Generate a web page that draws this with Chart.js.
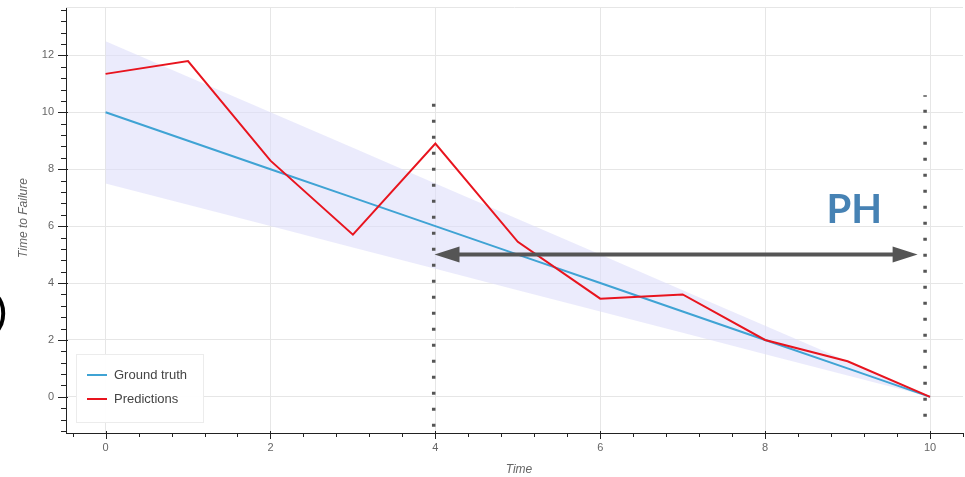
<!DOCTYPE html>
<html>
<head>
<meta charset="utf-8">
<script src="https://cdn.jsdelivr.net/npm/chart.js@4"></script>
<style>
  html, body { margin: 0; padding: 0; background: #fff; }
  #wrap { width: 965px; height: 477px; }
</style>
</head>
<body>
<div id="wrap"><canvas id="c"></canvas></div>
<script>
const times = [0, 1, 2, 3, 4, 5, 6, 7, 8, 9, 10]
const groundTruth = [10, 9, 8, 7, 6, 5, 4, 3, 2, 1, 0]
const predictions = [11.35, 11.8, 8.3, 5.7, 8.9, 5.45, 3.45, 3.6, 2.0, 1.25, 0]
const bandUpper = [12.5, 11.25, 10, 8.75, 7.5, 6.25, 5, 3.75, 2.5, 1.25, 0]
const bandLower = [7.5, 6.75, 6, 5.25, 4.5, 3.75, 3, 2.25, 1.5, 0.75, 0]
const xTicks = [0, 2, 4, 6, 8, 10]
const yTicks = [0, 2, 4, 6, 8, 10, 12]
const markerStart = [[3.98, -1.05], [3.98, 10.3]]
const markerEnd = [[9.94, -0.7], [9.94, 10.6]]
const arrowFrom = [3.99, 5.0]
const arrowTo = [9.85, 5.0]
const phLabel = [9.08, 6.55]

const toXY = (xs, ys) => xs.map((x, i) => ({ x: x, y: ys[i] }))
const pairXY = (pts) => pts.map((p) => ({ x: p[0], y: p[1] }))

const font = "'Liberation Sans', Arial, sans-serif"

const extras = {
  id: "extras",
  afterDraw(chart) {
    const ctx = chart.ctx
    const xs = chart.scales.x
    const ys = chart.scales.y
    const area = chart.chartArea
    ctx.save()

    // light top edge
    ctx.strokeStyle = "#e6e6e6"
    ctx.lineWidth = 1
    ctx.beginPath()
    ctx.moveTo(area.left, area.top + 0.5)
    ctx.lineTo(area.right, area.top + 0.5)
    ctx.stroke()

    // minor + major ticks, bokeh style
    ctx.strokeStyle = "#222"
    ctx.lineWidth = 1
    for (let v = -1.2; v <= 13.61; v += 0.4) {
      const py = Math.round(ys.getPixelForValue(v)) + 0.5
      const major = Math.abs(v / 2 - Math.round(v / 2)) < 1e-6
      ctx.beginPath()
      ctx.moveTo(area.left - (major ? 8 : 5), py)
      ctx.lineTo(area.left + (major ? 2 : 0), py)
      ctx.stroke()
    }
    for (let v = -0.4; v <= 10.41; v += 0.4) {
      const px = Math.round(xs.getPixelForValue(v)) + 0.5
      const major = Math.abs(v / 2 - Math.round(v / 2)) < 1e-6
      ctx.beginPath()
      ctx.moveTo(px, area.bottom - (major ? 2 : 0))
      ctx.lineTo(px, area.bottom + (major ? 6 : 4))
      ctx.stroke()
    }

    // double arrow
    const ax1 = xs.getPixelForValue(arrowFrom[0])
    const ax2 = xs.getPixelForValue(arrowTo[0])
    const ay = ys.getPixelForValue(arrowFrom[1])
    ctx.strokeStyle = "#555"
    ctx.fillStyle = "#555"
    ctx.lineWidth = 4
    ctx.beginPath()
    ctx.moveTo(ax1 + 20, ay)
    ctx.lineTo(ax2 - 20, ay)
    ctx.stroke()
    ctx.beginPath()
    ctx.moveTo(ax1, ay)
    ctx.lineTo(ax1 + 25, ay - 8)
    ctx.lineTo(ax1 + 25, ay + 8)
    ctx.closePath()
    ctx.fill()
    ctx.beginPath()
    ctx.moveTo(ax2, ay)
    ctx.lineTo(ax2 - 25, ay - 8)
    ctx.lineTo(ax2 - 25, ay + 8)
    ctx.closePath()
    ctx.fill()

    // PH
    ctx.fillStyle = "#4682b4"
    ctx.font = "bold 40px Lato, 'Open Sans', sans-serif"
    ctx.textAlign = "center"
    ctx.textBaseline = "middle"
    ctx.fillText("PH", xs.getPixelForValue(phLabel[0]), ys.getPixelForValue(phLabel[1]))

    // legend
    const lx = 76, ly = 354, lw = 127, lh = 68
    ctx.fillStyle = "rgba(255,255,255,0.95)"
    ctx.fillRect(lx, ly, lw, lh)
    ctx.strokeStyle = "#ececec"
    ctx.lineWidth = 1
    ctx.strokeRect(lx + 0.5, ly + 0.5, lw, lh)
    const entries = [chart.data.datasets[1], chart.data.datasets[0]]
    entries.forEach((ds, i) => {
      const ry = 375 + i * 24
      ctx.strokeStyle = ds.borderColor
      ctx.lineWidth = 2
      ctx.beginPath()
      ctx.moveTo(87, ry)
      ctx.lineTo(107, ry)
      ctx.stroke()
      ctx.fillStyle = "#444"
      ctx.font = "13px " + font
      ctx.textAlign = "left"
      ctx.textBaseline = "middle"
      ctx.fillText(ds.label, 114, ry)
    })

    // axis titles
    ctx.fillStyle = "#666"
    ctx.font = "italic 12px " + font
    ctx.textAlign = "center"
    ctx.textBaseline = "middle"
    ctx.fillText("Time", 519, 470)
    ctx.save()
    ctx.translate(24, 218)
    ctx.rotate(-Math.PI / 2)
    ctx.fillText("Time to Failure", 0, 0)
    ctx.restore()

    // cut-off bracket at the left edge
    ctx.fillStyle = "#000"
    ctx.font = "45px " + font
    ctx.textAlign = "left"
    ctx.textBaseline = "alphabetic"
    ctx.fillText(")", -7, 325)

    ctx.restore()
  },
}

const lineBase = {
  pointRadius: 0,
  fill: false,
  tension: 0,
}

const noPad = (s) => {
  s.paddingTop = 0
  s.paddingBottom = 0
  s.paddingLeft = 0
  s.paddingRight = 0
}

new Chart(document.getElementById("c"), {
  type: "line",
  data: {
    datasets: [
      Object.assign({}, lineBase, {
        label: "Predictions",
        data: toXY(times, predictions),
        borderColor: "#e8141e",
        borderWidth: 2,
        order: 0,
      }),
      Object.assign({}, lineBase, {
        label: "Ground truth",
        data: toXY(times, groundTruth),
        borderColor: "#3fa3d4",
        borderWidth: 2,
        order: 1,
      }),
      Object.assign({}, lineBase, {
        label: "start",
        data: pairXY(markerStart),
        borderColor: "#555",
        borderWidth: 3.5,
        borderDash: [3, 13],
        borderCapStyle: "butt",
        order: 2,
      }),
      Object.assign({}, lineBase, {
        label: "end",
        data: pairXY(markerEnd),
        borderColor: "#555",
        borderWidth: 3.5,
        borderDash: [3, 13],
        borderCapStyle: "butt",
        order: 2,
      }),
      Object.assign({}, lineBase, {
        label: "upper",
        data: toXY(times, bandUpper),
        borderWidth: 0,
        borderColor: "transparent",
        backgroundColor: "rgba(222,222,250,0.6)",
        fill: "+1",
        order: 3,
      }),
      Object.assign({}, lineBase, {
        label: "lower",
        data: toXY(times, bandLower),
        borderWidth: 0,
        borderColor: "transparent",
        order: 4,
      }),
    ],
  },
  options: {
    responsive: true,
    maintainAspectRatio: false,
    animation: false,
    layout: { padding: { top: 7, right: 2, left: 0, bottom: 0 } },
    plugins: {
      legend: { display: false },
      tooltip: { enabled: false },
    },
    scales: {
      x: {
        type: "linear",
        min: -0.48,
        max: 10.4,
        afterFit: (s) => { s.height = 44; noPad(s) },
        afterBuildTicks: (s) => { s.ticks = xTicks.map((v) => ({ value: v })) },
        grid: { color: "#e6e6e6", drawTicks: false },
        border: { display: true, color: "#222", width: 1 },
        ticks: { color: "#666", font: { size: 11, family: font }, padding: 8 },
      },
      y: {
        type: "linear",
        min: -1.27,
        max: 13.7,
        afterFit: (s) => { s.width = 66; noPad(s) },
        afterBuildTicks: (s) => { s.ticks = yTicks.map((v) => ({ value: v })) },
        grid: { color: "#e6e6e6", drawTicks: false },
        border: { display: true, color: "#222", width: 1 },
        ticks: { color: "#666", font: { size: 11, family: font }, padding: 12 },
      },
    },
  },
  plugins: [extras],
})
</script>
</body>
</html>
